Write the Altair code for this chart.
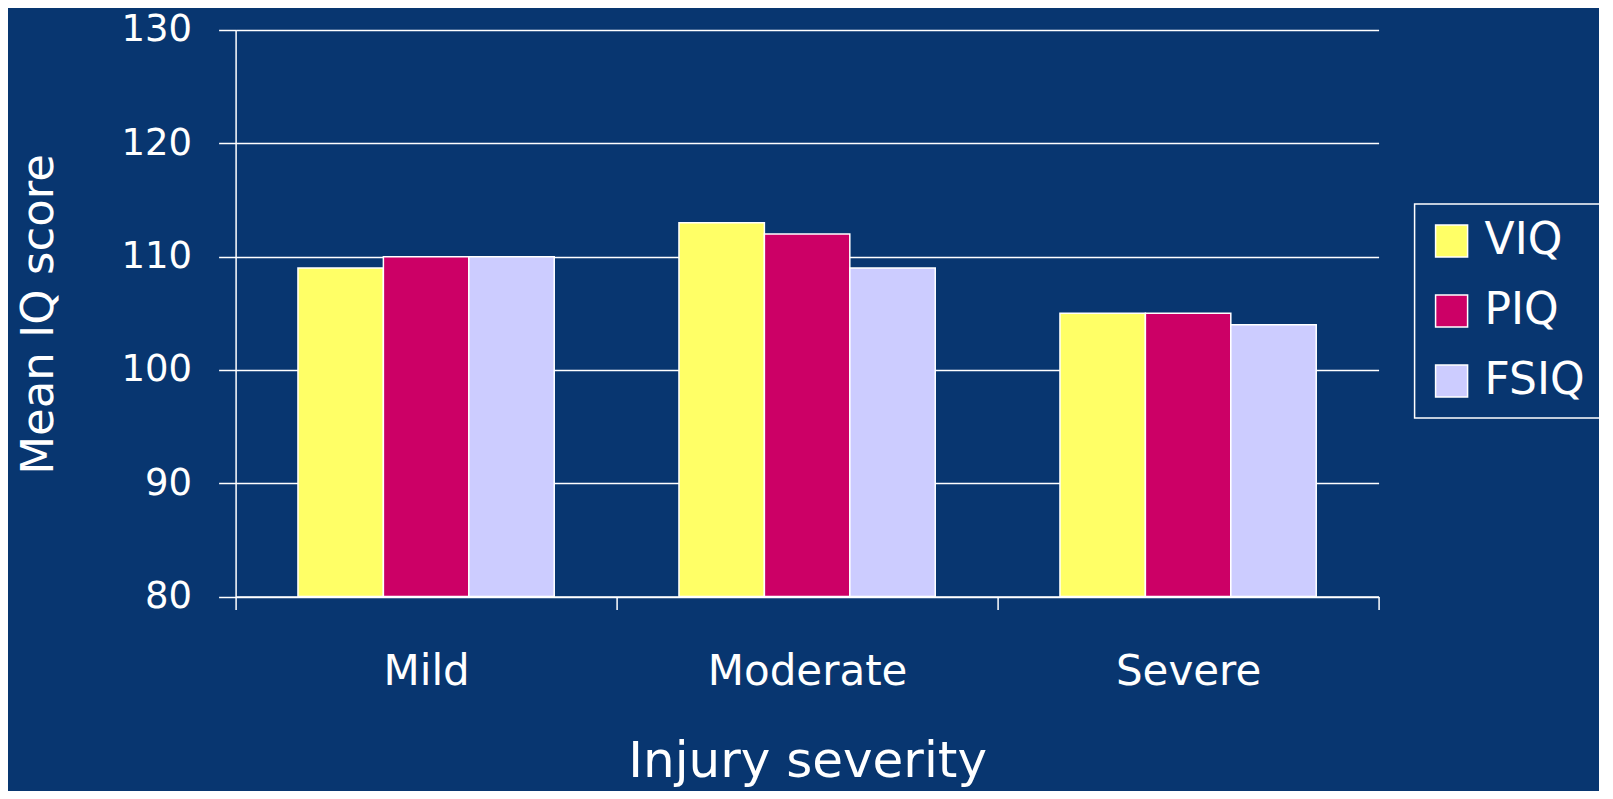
import altair as alt
import pandas as pd

categories = ["Mild", "Moderate", "Severe"]
series = ["VIQ", "PIQ", "FSIQ"]
viq = [109, 113, 105]
piq = [110, 112, 105]
fsiq = [110, 109, 104]
colors = ["#FFFF66", "#CC0066", "#CCCCFF"]
y_ticks = [80, 90, 100, 110, 120, 130]

rows = []
for name, vals in zip(series, [viq, piq, fsiq]):
    for c, v in zip(categories, vals):
        rows.append({"Severity": c, "Measure": name, "IQ": v})
df = pd.DataFrame(rows)

FONT = "DejaVu Sans"
BG = "#083670"

chart = alt.Chart(df).mark_bar(stroke="white", strokeWidth=1.5).encode(
    x=alt.X(
        "Severity:N",
        sort=categories,
        scale=alt.Scale(paddingInner=0, paddingOuter=0),
        axis=alt.Axis(
            title="Injury severity",
            titleFontSize=50,
            titleFont=FONT,
            titleFontWeight="normal",
            titleColor="white",
            titleY=180,
            titleBaseline="alphabetic",
            labelFontSize=42,
            labelFont=FONT,
            labelColor="white",
            labelAngle=0,
            labelPadding=42,
            labelLimit=500,
            tickBand="extent",
            tickSize=13,
            tickColor="white",
            tickWidth=1.5,
            domainColor="white",
            domainWidth=1.5,
            grid=False,
        ),
    ),
    xOffset=alt.XOffset(
        "Measure:N",
        sort=series,
        scale=alt.Scale(paddingInner=0, paddingOuter=0.73),
    ),
    y=alt.Y(
        "IQ:Q",
        scale=alt.Scale(domain=[80, 130], nice=False, zero=False),
        axis=alt.Axis(
            values=y_ticks,
            title="Mean IQ score",
            titleFontSize=45,
            titleFont=FONT,
            titleFontWeight="normal",
            titleColor="white",
            titleAngle=-90,
            titleX=-197,
            titleY=284,
            titleAlign="center",
            titleBaseline="middle",
            labelFontSize=37,
            labelFont=FONT,
            labelColor="white",
            labelPadding=27,
            tickSize=17,
            tickColor="white",
            tickWidth=1.5,
            domainColor="white",
            domainWidth=1.5,
            grid=True,
            gridColor="white",
            gridWidth=1.5,
            gridOpacity=1,
        ),
    ),
    y2=alt.datum(80),
    color=alt.Color(
        "Measure:N",
        sort=series,
        scale=alt.Scale(domain=series, range=colors),
        legend=alt.Legend(
            title=None,
            orient="none",
            legendX=1179,
            legendY=174,
            padding=15,
            strokeColor="white",
            symbolType="square",
            symbolSize=1024,
            symbolStrokeColor="white",
            symbolStrokeWidth=1.5,
            symbolOpacity=1,
            labelFontSize=44,
            labelFont=FONT,
            labelColor="white",
            labelOffset=11,
            rowPadding=26,
        ),
    ),
).properties(
    width=1143,
    height=566.6,
    autosize=alt.AutoSizeParams(type="none"),
    padding={"left": 227.6, "top": 22, "right": 220, "bottom": 194},
    background=BG,
).configure_view(stroke=None).configure_legend(strokeWidth=1.5)

chart.save("out.html", embed_options={"renderer": "svg", "actions": False})
